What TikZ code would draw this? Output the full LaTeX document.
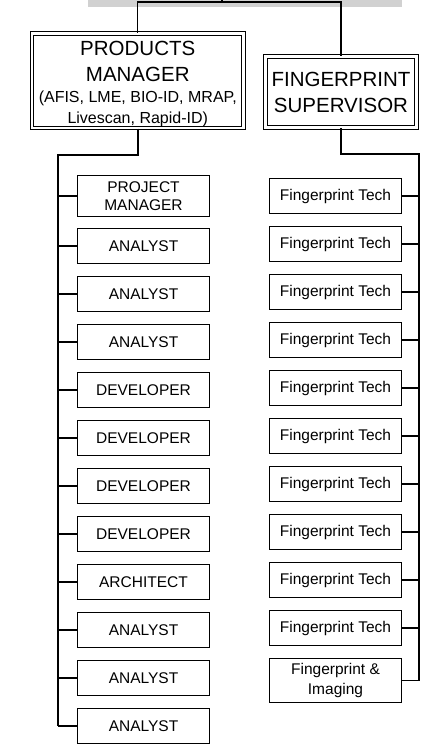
\documentclass[tikz,border=0pt]{standalone}
\usepackage{fontspec}
\setmainfont{Liberation Sans}
\begin{document}
\begin{tikzpicture}[x=1pt,y=-1pt,
  box/.style={draw, line width=1.2pt, minimum width=132pt, minimum height=35pt, inner sep=0pt, align=center, font=\fontsize{15.5}{18.5}\selectfont},
  mgr/.style={draw, line width=1.1pt, double, double distance=2.6pt, inner sep=0pt, align=center, font=\fontsize{20.5}{26}\selectfont},
  conn/.style={line width=1.1pt},
  thickconn/.style={line width=1.9pt},
  bar/.style={fill=black!18, inner sep=0pt, minimum width=314pt, minimum height=9pt}]
\useasboundingbox (0,0) rectangle (442,750);
\node[bar, anchor=south] (top) at (245,7) {};
\node[mgr, minimum width=211.5pt, minimum height=94.7pt] (pm) at (137.75,80.7)
  {\rule{0pt}{20pt}PRODUCTS\\MANAGER\\[-5pt]\fontsize{16}{20}\selectfont (AFIS, LME, BIO-ID, MRAP,\\[-5pt]\fontsize{16}{20}\selectfont Livescan, Rapid-ID)};
\node[mgr, minimum width=151pt, minimum height=71pt] (sup) at (341,92) {FINGERPRINT\\SUPERVISOR};
% left column
\node[box, minimum height=41pt] (l1) at (143.5,196) {PROJECT\\MANAGER};
\foreach \i/\yy/\t in {2/246/ANALYST,3/294/ANALYST,4/342/ANALYST,5/390/DEVELOPER,6/438/DEVELOPER,7/486/DEVELOPER,8/534/DEVELOPER,9/582/ARCHITECT,10/630/ANALYST,11/678/ANALYST,12/726/ANALYST}
  \node[box] (l\i) at (143.5,\yy) {\t};
% right column
\foreach \i in {1,...,10}
  \node[box] (r\i) at (335.5,{196+48*(\i-1)}) {Fingerprint Tech};
\node[box, minimum height=44pt] (r11) at (335.5,680.5) {Fingerprint \&\\[1pt]Imaging};
% connectors
\coordinate (hub) at (222,2);
\draw[conn] (hub |- top.north) -- (hub);
\draw[conn] (hub) -| (pm.north);
\draw[conn] (hub) -| (sup.north);
\coordinate (lt) at (58,155);
\draw[thickconn] (pm.south) |- (lt) -- (lt |- l12.west);
\foreach \i in {1,...,12}
  \draw[conn] (l\i.west) -- (l\i.west -| lt);
\coordinate (rt) at (419,154);
\draw[conn] (sup.south) |- (rt) -- (rt |- r11.east);
\foreach \i in {1,...,11}
  \draw[thickconn] (r\i.east) -- (r\i.east -| rt);
\end{tikzpicture}
\end{document}
